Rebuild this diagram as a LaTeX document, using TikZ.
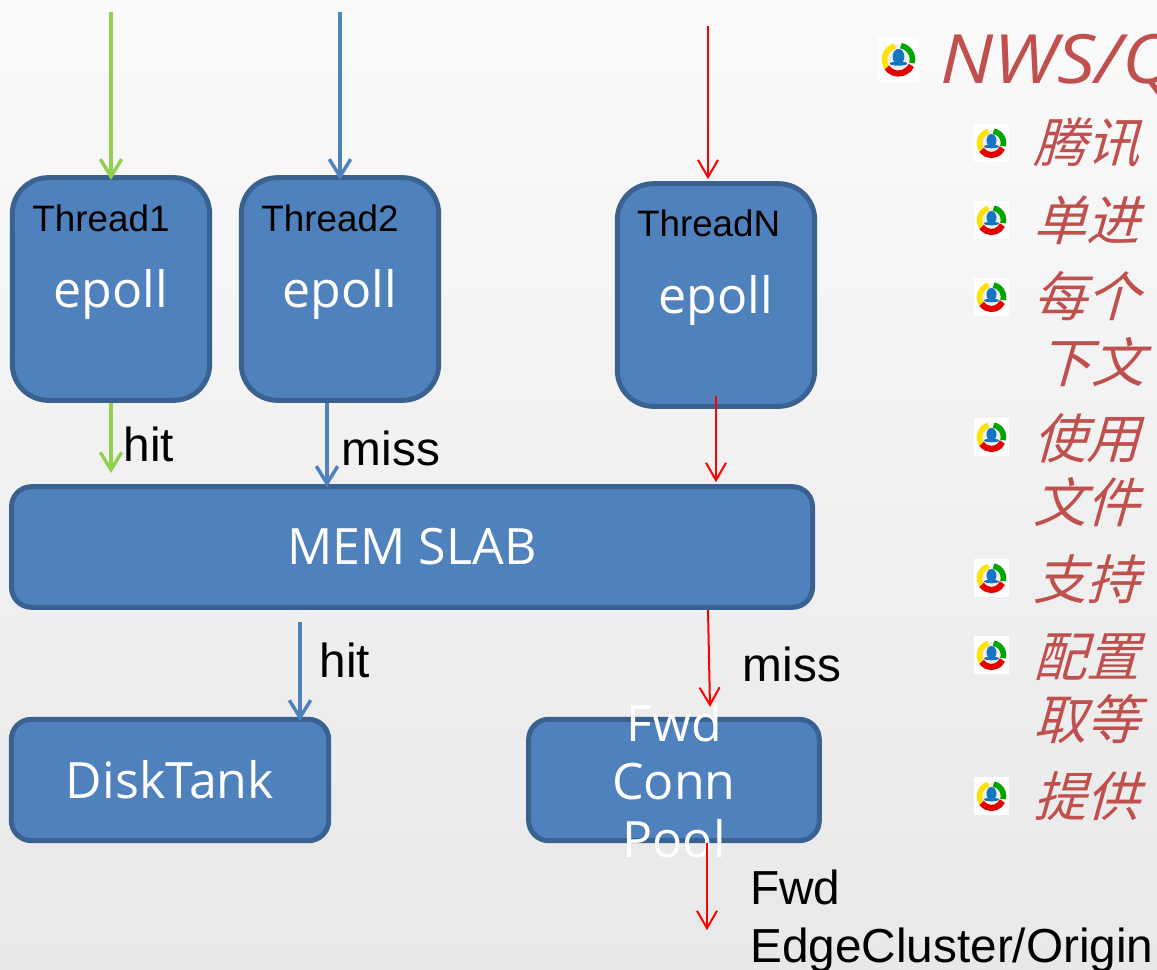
\documentclass[tikz,border=0pt]{standalone}
\usepackage{fontspec}
\setmainfont{Liberation Sans}
\newfontfamily\boxfont{Open Sans}
\newfontfamily\titlefont[FakeStretch=1.11]{Open Sans}
\newfontfamily\cjk[FakeSlant=0.28]{Noto Sans CJK SC}
\usetikzlibrary{arrows.meta}
\definecolor{boxfill}{HTML}{4F81BD}
\definecolor{boxline}{HTML}{3A6291}
\definecolor{hitgreen}{HTML}{92D050}
\definecolor{notered}{HTML}{C0504D}
\tikzset{
  boxtext/.style={inner sep=0pt,text=white,font=\boxfont\fontsize{37.6}{43.5}\selectfont,align=center},
  blockbox/.style={boxtext,draw=boxline,fill=boxfill,line width=3.75pt},
  threadbox/.style={blockbox,rounded corners=27pt,minimum width=148pt,minimum height=167pt},
  lowbox/.style={blockbox,rounded corners=15pt,minimum height=91pt},
  threadname/.style={font=\fontsize{27.6}{32}\selectfont},
  flowname/.style={font=\fontsize{35.8}{43}\selectfont,align=left},
  greenflow/.style={draw=hitgreen,line width=2.6pt,-{Straight Barb[length=13pt,width=16pt]}},
  blueflow/.style={draw=boxfill,line width=2.6pt,-{Straight Barb[length=13pt,width=16pt]}},
  redflow/.style={draw=red,line width=1.5pt,-{Straight Barb[length=13pt,width=15pt]}},
  noteline/.style={text=notered,anchor=base west,inner sep=0pt,font=\cjk\fontsize{40}{48}\selectfont},
  pics/qqicon/.style={code={
    \begin{scope}[y=0.75pt]
    \fill[white] (-17.5,-19) rectangle (17.5,19);
    \fill[black!6] (0,0) circle (13);
    \draw[line width=4.2pt,color=yellow!85!orange] (105:12) arc (105:220:12);
    \draw[line width=4.2pt,color=green!65!black] (80:12) arc (80:-15:12);
    \draw[line width=4.6pt,color=red!90!black] (-25:12) arc (-25:-145:12);
    \fill[cyan!55!blue] (0,2.5) ellipse (5 and 6.5);
    \fill[cyan!55!blue] (0,-3.5) ellipse (7.5 and 1.8);
    \end{scope}
  }}
}
\begin{document}
\begin{tikzpicture}[x=0.75pt,y=-0.75pt]
\useasboundingbox (0,0) rectangle (1157,970);
\shade[top color=black!2,bottom color=black!9] (0,0) rectangle (1157,970);

\node[threadbox] (thread1) at (111,289) {};
\node[threadbox,right of=thread1,node distance=171.75pt] (thread2) {};
\node[threadbox,right of=thread2,node distance=282pt,yshift=-4.5pt] (threadN) {};
\node[blockbox,rounded corners=15pt,minimum width=600.75pt,minimum height=90.5pt,
  below of=thread1,node distance=193.5pt,xshift=225.75pt] (slab) {MEM SLAB};
\node[lowbox,minimum width=238pt,below of=thread1,node distance=368.25pt,xshift=44.25pt] (disk) {DiskTank};
\node[lowbox,minimum width=218pt,right of=disk,node distance=378pt] (fwd) {};
\node[boxtext,at=(fwd.center),yshift=-0.75pt] (fwdtext) {Fwd\\Conn\\Pool};

\node[boxtext,at=(thread1.center),yshift=-3.75pt] (epoll1) {epoll};
\node[boxtext,at=(thread2.center),yshift=-3.75pt] (epoll2) {epoll};
\node[boxtext,at=(threadN.center),yshift=-3.75pt] (epollN) {epoll};
\node[threadname,above of=thread1,node distance=53.25pt,xshift=-7.5pt] (name1) {Thread1};
\node[threadname,above of=thread2,node distance=53.25pt,xshift=-7.5pt] (name2) {Thread2};
\node[threadname,above of=threadN,node distance=54pt,xshift=-5.5pt] (nameN) {ThreadN};

\coordinate[above of=thread1,node distance=207.75pt] (in1);
\coordinate[above of=thread2,node distance=207.75pt] (in2);
\coordinate (inNend) at ([xshift=-6pt,yshift=1.5pt]threadN.north);
\coordinate[above of=inNend,node distance=114.75pt] (inN);
\coordinate[below of=thread1,node distance=138pt] (hit1);
\coordinate (miss2) at ([xshift=-9.75pt]thread2.south);
\coordinate (slabfwd) at ([xshift=222pt]slab.south);
\coordinate (fwdin) at ([xshift=27pt,yshift=7.5pt]fwd.north);
\coordinate (diskin) at ([xshift=97.5pt]disk.north);
\coordinate (fwdout) at ([xshift=24.75pt]fwd.south);
\coordinate[below of=fwdout,node distance=65.25pt] (fwdend);

\draw[greenflow,shorten >=-3.5pt] (in1) -- (thread1.north);
\draw[blueflow,shorten >=-3.5pt] (in2) -- (thread2.north);
\draw[redflow] (inN) -- (inNend);
\draw[greenflow] (thread1.south) -- (hit1);
\draw[blueflow,shorten >=-2pt] (miss2) -- (miss2 |- slab.north);
\draw[redflow,shorten <=-10pt,shorten >=1.5pt] (threadN.south) -- (threadN.south |- slab.north);
\draw[blueflow,shorten <=9pt,shorten >=-3pt] (diskin |- slab.south) -- (diskin);
\draw[redflow] (slabfwd) -- (fwdin);
\draw[redflow] (fwdout) -- (fwdend);

\node[flowname] (hitlabel1) at (149,444) {hit};
\node[flowname] (misslabel1) at (391,448) {miss};
\node[flowname] (hitlabel2) at (345,660) {hit};
\node[flowname] (misslabel2) at (792,664) {miss};
\node[flowname,anchor=west,inner sep=0pt] (fwdlabel) at (750,921) {Fwd\\EdgeCluster/Origin};

\begin{scope}
\clip (0,0) rectangle (1157,970);
\pic[scale=1.17] at (898.5,59.5) {qqicon};
\foreach \ypos in {143,220,297,437,578,655,796}
  \pic at (991.5,\ypos) {qqicon};
\node[text=notered,anchor=base west,inner sep=0pt,font=\titlefont\itshape\fontsize{51}{60}\selectfont] (title) at (940,84) {NWS/Q};
\node[noteline] (note1) at (1033,163) {腾讯};
\node[noteline] (note2) at (1033,241) {单进};
\node[noteline] (note3) at (1033,316) {每个};
\node[noteline] (note3b) at (1038,382) {下文};
\node[noteline] (note4) at (1033,458) {使用};
\node[noteline] (note4b) at (1033,522) {文件};
\node[noteline] (note5) at (1033,599) {支持};
\node[noteline] (note6) at (1033,676) {配置};
\node[noteline] (note6b) at (1033,739) {取等};
\node[noteline] (note7) at (1033,816) {提供};
\end{scope}
\end{tikzpicture}
\end{document}
